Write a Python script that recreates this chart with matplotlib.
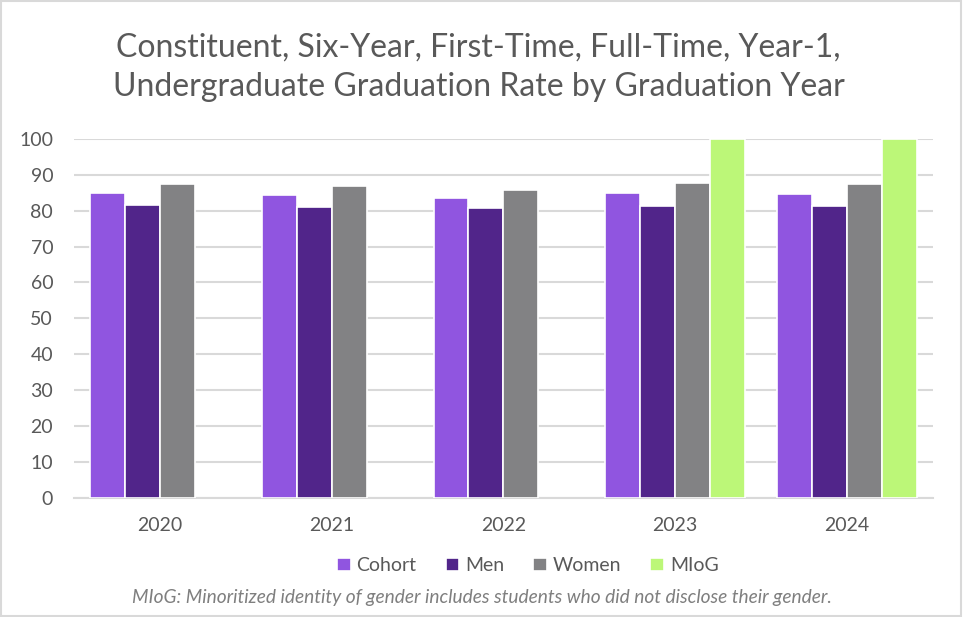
import numpy as np
import matplotlib
matplotlib.use('Agg')
import matplotlib.pyplot as plt
from matplotlib.patches import Rectangle

# data
years = ['2020', '2021', '2022', '2023', '2024']
series_names = ['Cohort', 'Men', 'Women', 'MIoG']
cohort = [85.0, 84.4, 83.6, 85.0, 84.7]
men = [81.7, 81.1, 80.8, 81.4, 81.4]
women = [87.5, 86.9, 85.8, 87.8, 87.5]
miog = [np.nan, np.nan, np.nan, 100.0, 100.0]
colors = ['#9055E0', '#51258A', '#828284', '#BCF778']

plt.rcParams['font.family'] = ['Lato', 'DejaVu Sans']
text_gray = '#595959'

fig = plt.figure(figsize=(9.63, 6.17), dpi=100)
ax = fig.add_axes([0.0768, 0.193, 0.892, 0.582])

x = np.arange(len(years))
slot = 0.2035
for i, (name, vals) in enumerate(zip(series_names, [cohort, men, women, miog])):
    ax.bar(x + (i - 1.5) * slot, vals, width=slot, color=colors[i],
           edgecolor='white', linewidth=1.2, label=name, zorder=3)

ax.set_xlim(-0.5, len(years) - 0.5)
ax.set_ylim(0, 100)
ax.set_yticks(range(0, 101, 10))
ax.set_xticks(x)
ax.set_xticklabels(years)
ax.grid(axis='y', color='#d9d9d9', linewidth=1.5, zorder=0)
for s in ['top', 'right', 'left']:
    ax.spines[s].set_visible(False)
ax.spines['bottom'].set_color('#d9d9d9')
ax.spines['bottom'].set_linewidth(1.5)
ax.tick_params(axis='both', length=0, labelsize=14, colors=text_gray)
ax.tick_params(axis='y', pad=15)
ax.tick_params(axis='x', pad=14)

fig.text(0.497, 0.891, 'Constituent, Six-Year, First-Time, Full-Time, Year-1,\n'
         'Undergraduate Graduation Rate by Graduation Year',
         ha='center', va='center', fontsize=23, color=text_gray, linespacing=1.4)

leg = fig.legend(loc='center', bbox_to_anchor=(0.548, 0.083), ncol=4, frameon=False,
                 fontsize=14, handlelength=0.7, handleheight=0.7, handletextpad=0.3,
                 columnspacing=1.5)
for t in leg.get_texts():
    t.set_color(text_gray)

fig.text(0.5, 0.032, 'MIoG: Minoritized identity of gender includes students who did not disclose their gender.',
         ha='center', va='center', fontsize=13.8, style='italic', color='#7f7f7f')

fig.patches.append(Rectangle((0.001, 0.002), 0.997, 0.996, transform=fig.transFigure,
                             fill=False, edgecolor='#d9d9d9', linewidth=1.5))

fig.savefig('out.png', dpi=100)
plt.close(fig)
